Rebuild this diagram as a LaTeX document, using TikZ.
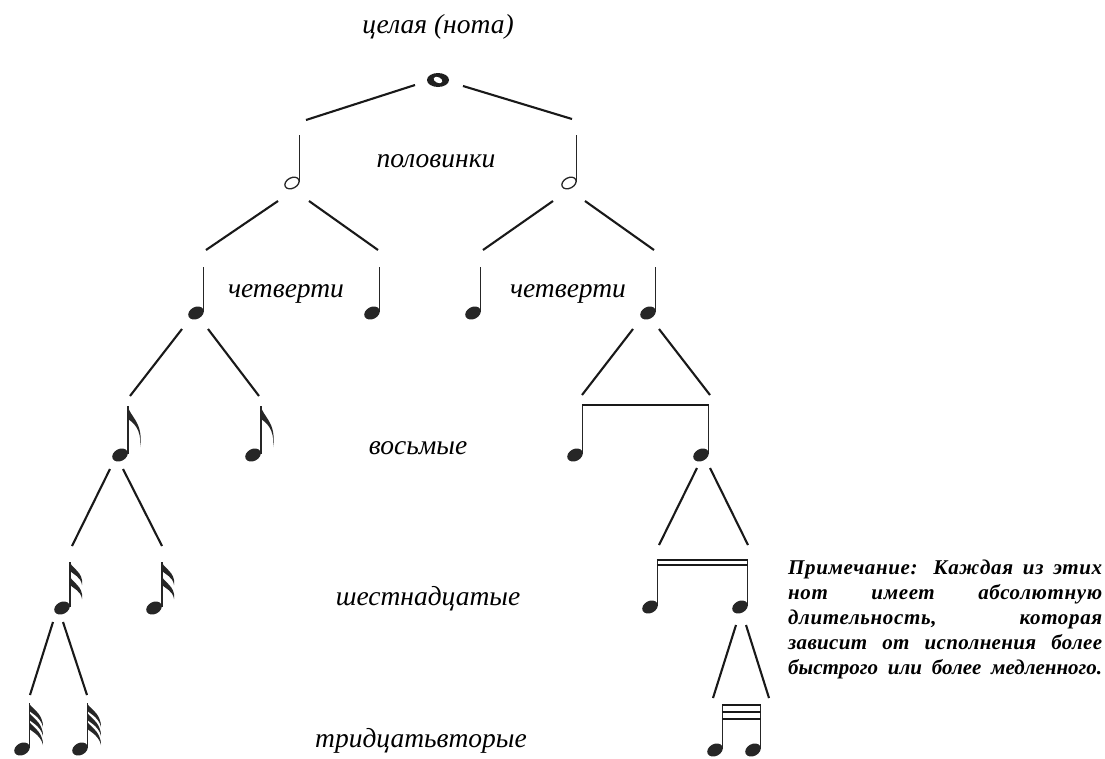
\documentclass[tikz,border=0pt]{standalone}
\usepackage{fontspec}
\setmainfont{Liberation Serif}
\usetikzlibrary{calc}
\tikzset{
  conn/.style={line width=2.1pt, black!90},
  stemline/.style={line width=1.1pt, black!85},
  beam/.style={line width=2.2pt, black!90},
  lbl/.style={font=\fontsize{27.5}{30}\selectfont\itshape, anchor=base, inner sep=0pt, text=black},
  remark/.style={font=\fontsize{21}{25}\selectfont\bfseries\itshape, align=left, anchor=north west, inner sep=0pt, text=black},
  headq/.pic={\fill[black!85, rotate=28] (0,0) ellipse[x radius=8.2, y radius=6];},
  headh/.pic={\draw[line width=1.3pt, black!85, rotate=28] (0,0) ellipse[x radius=7.6, y radius=5.2];},
  qnote/.pic={\pic{headq}; \draw[stemline] (7.3,-1) -- (7.3,-46);},
  hnote/.pic={\pic{headh}; \draw[stemline] (7.6,-1) -- (7.6,-48);},
  enote/.pic={\pic{headq}; \draw[stemline] (8,-1) -- (8,-49);
    \fill[black!85] (8,-49) .. controls (9,-39) and (24,-33) .. (20,-8) .. controls (22,-27) and (12,-33) .. (8,-36) -- cycle;},
  snote/.pic={\pic{headq}; \draw[stemline] (8,-1) -- (8,-46);
    \foreach \a in {0,14}{\fill[black!85] (8,{-46+\a}) .. controls (9,{-40+\a}) and (22,{-36+\a}) .. (20,{-23+\a}) .. controls (19,{-31+\a}) and (11,{-34+\a}) .. (8,{-37+\a}) -- cycle;}},
  tnote/.pic={\pic{headq}; \draw[stemline] (7.3,-1) -- (7.3,-46);
    \foreach \a in {0,9,18}{\fill[black!85] (7.3,{-46+\a}) .. controls (8,{-41+\a}) and (21,{-37+\a}) .. (21,{-22+\a}) .. controls (19,{-31+\a}) and (11,{-35+\a}) .. (7.3,{-38+\a}) -- cycle;}},
}
\begin{document}
\begin{tikzpicture}[x=1pt,y=-1pt]
\useasboundingbox (0,0) rectangle (1105,758);
\fill[white] (0,0) rectangle (1105,758);

% note positions (note-head centres)
\coordinate (W) at (438,80);
\coordinate (H1) at (292,183);  \coordinate (H2) at (569,183);
\coordinate (Q1) at (196,313);  \coordinate (Q2) at (372,313);
\coordinate (Q3) at (473,313);  \coordinate (Q4) at (648,313);
\coordinate (E1) at (120,455);  \coordinate (E2) at (253,455);
\coordinate (BE1) at (575,455); \coordinate (BE2) at (701,455);
\coordinate (S1) at (62,608);   \coordinate (S2) at (154,608);
\coordinate (BS1) at (650,607); \coordinate (BS2) at (740,607);
\coordinate (T1) at (22,749);   \coordinate (T2) at (80,749);
\coordinate (BT1) at (715,750); \coordinate (BT2) at (753,750);

% whole note
\fill[black!88] (W) ellipse[x radius=11, y radius=7];
\fill[white, shift={(W)}, rotate=-25] (0,0) ellipse[x radius=4.6, y radius=2.8];

% half notes
\pic at (H1) {hnote};
\pic at (H2) {hnote};
% quarter notes
\pic at (Q1) {qnote};
\pic at (Q2) {qnote};
\pic at (Q3) {qnote};
\pic at (Q4) {qnote};
% eighth notes
\pic at (E1) {enote};
\pic at (E2) {enote};
\pic at (BE1) {headq};
\pic at (BE2) {headq};
\draw[stemline] ($(BE1)+(7.3,-1)$) -- ($(BE1)+(7.3,-50)$);
\draw[stemline] ($(BE2)+(7.3,-1)$) -- ($(BE2)+(7.3,-50)$);
\draw[beam] ($(BE1)+(6.8,-50)$) -- ($(BE2)+(7.8,-50)$);
% sixteenth notes
\pic at (S1) {snote};
\pic at (S2) {snote};
\pic at (BS1) {headq};
\pic at (BS2) {headq};
\draw[stemline] ($(BS1)+(7.3,-1)$) -- ($(BS1)+(7.3,-47)$);
\draw[stemline] ($(BS2)+(7.3,-1)$) -- ($(BS2)+(7.3,-47)$);
\draw[beam, line width=1.8pt] ($(BS1)+(6.8,-47)$) -- ($(BS2)+(7.8,-47)$);
\draw[beam, line width=1.8pt] ($(BS1)+(6.8,-42)$) -- ($(BS2)+(7.8,-42)$);
% thirty-second notes
\pic at (T1) {tnote};
\pic at (T2) {tnote};
\pic at (BT1) {headq};
\pic at (BT2) {headq};
\draw[stemline] ($(BT1)+(7.3,-1)$) -- ($(BT1)+(7.3,-45)$);
\draw[stemline] ($(BT2)+(7.3,-1)$) -- ($(BT2)+(7.3,-45)$);
\foreach \b in {-45,-38,-31}{\draw[beam, line width=1.8pt] ($(BT1)+(6.8,\b)$) -- ($(BT2)+(7.8,\b)$);}

% connectors
\draw[conn] ($(W)+(-23,5)$) -- ($(H1)+(14,-63)$);
\draw[conn] ($(W)+(25,6)$) -- ($(H2)+(3,-64)$);
\draw[conn] ($(H1)+(-14,18)$) -- ($(Q1)+(10,-63)$);
\draw[conn] ($(H1)+(17,18)$) -- ($(Q2)+(6,-63)$);
\draw[conn] ($(H2)+(-16,18)$) -- ($(Q3)+(10,-63)$);
\draw[conn] ($(H2)+(16,18)$) -- ($(Q4)+(6,-63)$);
\draw[conn] ($(Q1)+(-14,16)$) -- ($(E1)+(10,-59)$);
\draw[conn] ($(Q1)+(12,16)$) -- ($(E2)+(6,-59)$);
\draw[conn] ($(Q4)+(-15,16)$) -- ($(BE1)+(7,-60)$);
\draw[conn] ($(Q4)+(11,16)$) -- ($(BE2)+(9,-60)$);
\draw[conn] ($(E1)+(-10,14)$) -- ($(S1)+(10,-62)$);
\draw[conn] ($(E1)+(3,14)$) -- ($(S2)+(8,-62)$);
\draw[conn] ($(BE2)+(-4,13)$) -- ($(BS1)+(9,-62)$);
\draw[conn] ($(BE2)+(9,13)$) -- ($(BS2)+(8,-62)$);
\draw[conn] ($(S1)+(-9,14)$) -- ($(T1)+(8,-54)$);
\draw[conn] ($(S1)+(1,14)$) -- ($(T2)+(7,-54)$);
\draw[conn] ($(BS2)+(-4,18)$) -- ($(BT1)+(-2,-52)$);
\draw[conn] ($(BS2)+(6,18)$) -- ($(BT2)+(16,-52)$);

% labels
\node[lbl] (l1) at (438,33) {целая (нота)};
\node[lbl] (l2) at (436,167) {половинки};
\node[lbl] (l3) at (286,297) {четверти};
\node[lbl] (l4) at (568,297) {четверти};
\node[lbl] (l5) at (418,454) {восьмые};
\node[lbl] (l6) at (428,605) {шестнадцатые};
\node[lbl] (l7) at (421,747) {тридцатьвторые};

% remark
\node[remark] (rem) at (788,560) {%
\makebox[314pt][s]{\addfontfeatures{LetterSpace=3}Примечание: Каждая из этих}\\
\makebox[314pt][s]{\addfontfeatures{LetterSpace=3}нот имеет абсолютную}\\
\makebox[314pt][s]{\addfontfeatures{LetterSpace=3}длительность, которая}\\
\makebox[314pt][s]{\addfontfeatures{LetterSpace=1.5}зависит от исполнения более}\\
\makebox[314pt][s]{быстрого или более медленного.}};
\end{tikzpicture}
\end{document}
